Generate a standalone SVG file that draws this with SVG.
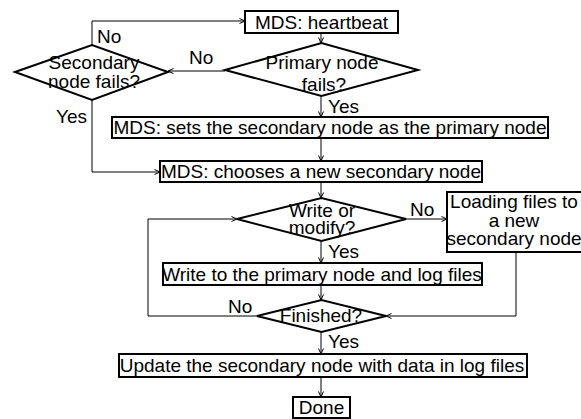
<svg xmlns="http://www.w3.org/2000/svg" width="581" height="419" viewBox="0 0 581 419">
<defs>
<marker id="ah" markerWidth="8" markerHeight="8" refX="6" refY="3" orient="auto" markerUnits="userSpaceOnUse">
<path d="M0.5,0.5 L6,3 L0.5,5.5" fill="none" stroke="#000" stroke-width="1"/>
</marker>
</defs>
<style>
.box{fill:#fff;stroke:#000;stroke-width:2}
.t{font-family:"Liberation Sans",Arial,sans-serif;font-size:19px;fill:#000}
.m{text-anchor:middle}
.c{fill:none;stroke:#000;stroke-width:1;marker-end:url(#ah)}
</style>
<rect width="581" height="419" fill="#fff"/>
<g id="connectors">
<path class="c" d="M321,33 V43"/>
<path class="c" d="M225,71 H168"/>
<path class="c" d="M92,45 V21 H245"/>
<path class="c" d="M321,96 V117"/>
<path class="c" d="M92,100 V172 H160"/>
<path class="c" d="M321,138 V161"/>
<path class="c" d="M321,182 V198"/>
<path class="c" d="M406,219 H447"/>
<path class="c" d="M321,241 V263"/>
<path class="c" d="M321,285 V300"/>
<path class="c" d="M257,316 H148 V219 H237"/>
<path class="c" d="M516,252 V316 H386"/>
<path class="c" d="M321,332 V354"/>
<path class="c" d="M321,377 V397"/>
<text class="t" x="97" y="43">No</text>
<text class="t" x="189" y="64">No</text>
<text class="t" x="56" y="123">Yes</text>
<text class="t" x="328" y="113">Yes</text>
<text class="t" x="410" y="216">No</text>
<text class="t" x="328" y="258">Yes</text>
<text class="t" x="228" y="313">No</text>
<text class="t" x="328" y="348">Yes</text>
</g>
<g id="heartbeat">
<rect class="box" x="245" y="11" width="153" height="22"/>
<text class="t m" x="321.5" y="29">MDS: heartbeat</text>
</g>
<g id="primary-fails">
<polygon class="box" points="225,70 321.5,43 418,70 321.5,96"/>
<text class="t m" x="322" y="69">Primary node</text>
<text class="t m" x="324" y="91">fails?</text>
</g>
<g id="secondary-fails">
<polygon class="box" points="15,72 92,45 168,72 92,100"/>
<text class="t m" x="94" y="69">Secondary</text>
<text class="t m" x="94" y="88">node fails?</text>
</g>
<g id="sets-primary">
<rect class="box" x="112" y="117" width="436" height="21"/>
<text class="t m" x="330" y="134">MDS: sets the secondary node as the primary node</text>
</g>
<g id="choose-secondary">
<rect class="box" x="160" y="161" width="322" height="21"/>
<text class="t m" x="321" y="178">MDS: chooses a new secondary node</text>
</g>
<g id="write-or-modify">
<polygon class="box" points="237,219 321.5,198 406,219 321.5,241"/>
<text class="t m" x="322" y="217">Write or</text>
<text class="t m" x="322" y="234">modify?</text>
</g>
<g id="loading">
<rect class="box" x="447" y="192" width="136" height="60"/>
<text class="t m" x="514" y="208">Loading files to</text>
<text class="t m" x="514" y="227">a new</text>
<text class="t m" x="514" y="245">secondary node</text>
</g>
<g id="write-primary">
<rect class="box" x="163" y="263" width="319" height="22"/>
<text class="t m" x="322" y="281">Write to the primary node and log files</text>
</g>
<g id="finished">
<polygon class="box" points="257,316 321.5,300 386,316 321.5,332"/>
<text class="t m" x="321" y="322">Finished?</text>
</g>
<g id="update">
<rect class="box" x="119" y="354" width="408" height="23"/>
<text class="t m" x="322" y="372">Update the secondary node with data in log files</text>
</g>
<g id="done">
<rect class="box" x="293" y="397" width="57" height="21"/>
<text class="t m" x="321.5" y="414">Done</text>
</g>
</svg>
